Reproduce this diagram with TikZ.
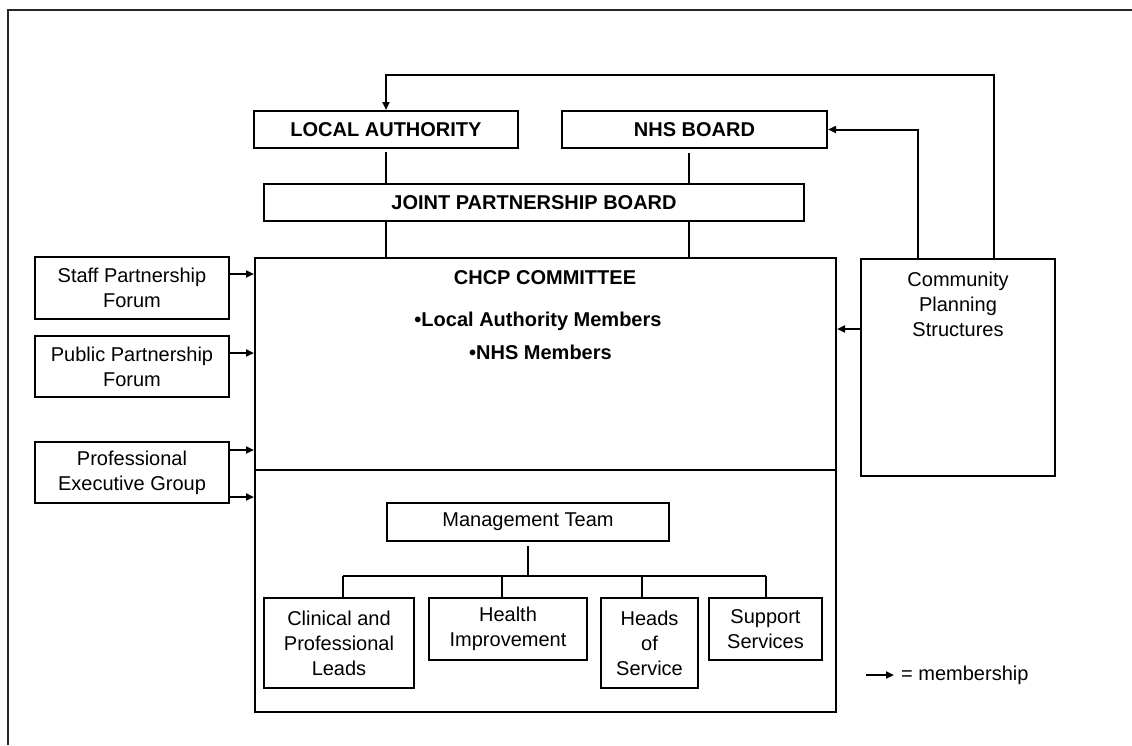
\documentclass[tikz,border=0pt]{standalone}
\usepackage{fontspec}
\setmainfont{Liberation Sans}
\usetikzlibrary{arrows.meta}
\begin{document}
\begin{tikzpicture}[x=1pt,y=-1pt,
  txt/.style={font=\fontsize{20}{25}\selectfont},
  btxt/.style={font=\fontsize{20}{25}\selectfont\bfseries},
  box/.style={draw, line width=2pt, rectangle, inner sep=0pt, align=center, txt},
  bbox/.style={box, btxt},
  conn/.style={line width=2pt},
  arr/.style={conn, -{Triangle[length=8pt,width=7pt]}},
  lbl/.style={inner sep=0pt, align=center}]
\useasboundingbox (0,0) rectangle (1132,745);
% outer frame
\draw[line width=2pt, black!85] (7.5,745) -- (7.5,9.5) -- (1132,9.5);

% top level
\node[bbox, minimum width=264, minimum height=37] (la) at (386,129.5) {LOCAL AUTHORITY};
\node[bbox, minimum width=265, minimum height=37] (nhs) at (694.5,129.5) {NHS BOARD};
\node[bbox, minimum width=540, minimum height=37] (jpb) at (534,202.5) {JOINT PARTNERSHIP BOARD};

% CHCP committee
\node[box, minimum width=581, minimum height=212] (chcp) at (545.5,364) {};
\node[box, minimum width=581, minimum height=242] (ops) at (545.5,591) {};
\node[lbl, btxt, anchor=base] (chcpt) at (545,284) {CHCP COMMITTEE};
\node[lbl, btxt, anchor=base] (lam) at (538,326) {•Local Authority Members};
\node[lbl, btxt, anchor=base] (nhsm) at (540.5,359) {•NHS Members};

% left boxes
\node[box, minimum width=194, minimum height=62] (staff) at (132,288) {Staff Partnership\\Forum};
\node[box, minimum width=194, minimum height=61] (public) at (132,366.5) {Public Partnership\\Forum};
\node[box, minimum width=194, minimum height=61] (peg) at (132,472.5) {Professional\\Executive Group};

% community planning
\node[box, minimum width=194, minimum height=217] (cps) at (958,367.5) {};
\node[lbl, txt, anchor=north] (cpst) at (958,272) {Community\\Planning\\Structures};

% management
\node[box, minimum width=282, minimum height=38] (mt) at (528,522) {Management Team};
\node[box, minimum width=150, minimum height=90] (clin) at (339,643) {Clinical and\\Professional\\Leads};
\node[box, minimum width=158, minimum height=62] (health) at (508,629) {Health\\Improvement};
\node[box, minimum width=97, minimum height=90] (heads) at (649.5,643) {Heads\\of\\Service};
\node[box, minimum width=113, minimum height=62] (support) at (765.5,629) {Support\\Services};

% vertical links
\draw[conn, shorten <=3pt] (la.south) -- (la.south |- jpb.north);
\draw[conn] (la.south |- jpb.south) -- (la.south |- chcp.north);
\coordinate (nd) at ([xshift=-5.5pt]nhs.south);
\draw[conn, shorten <=4pt] (nd) -- (nd |- jpb.north);
\draw[conn] (nd |- jpb.south) -- (nd |- chcp.north);

% community planning links
\coordinate (tc) at (994,75);
\draw[arr] ([xshift=36pt]cps.north) -- (tc) -| (la.north);
\draw[arr] ([xshift=-40pt]cps.north) |- (nhs.east);
\draw[arr] (cps.west |- 0,329) -- (chcp.east |- 0,329);

% left membership arrows
\draw[arr] (staff.east |- 0,274) -- (chcp.west |- 0,274);
\draw[arr] (public.east |- 0,353) -- (chcp.west |- 0,353);
\draw[arr] (peg.east |- 0,450) -- (chcp.west |- 0,450);
\draw[arr] (peg.east |- 0,497) -- (ops.west |- 0,497);

% management tree
\coordinate (b1) at (343,576);
\coordinate (b2) at (502,576);
\coordinate (b3) at (642,576);
\coordinate (b4) at (766,576);
\draw[conn, shorten <=4pt] (mt.south) -- (mt.south |- b1);
\draw[conn] (b1) -- (b4);
\draw[conn] (b1) -- (b1 |- clin.north);
\draw[conn] (b2) -- (b2 |- health.north);
\draw[conn] (b3) -- (b3 |- heads.north);
\draw[conn] (b4) -- (b4 |- support.north);

% legend
\coordinate (legA) at (866,675);
\coordinate (legB) at (894,675);
\draw[arr] (legA) -- (legB);
\node[lbl, txt, anchor=base west] (legt) at (901,680) {= membership};
\end{tikzpicture}
\end{document}
